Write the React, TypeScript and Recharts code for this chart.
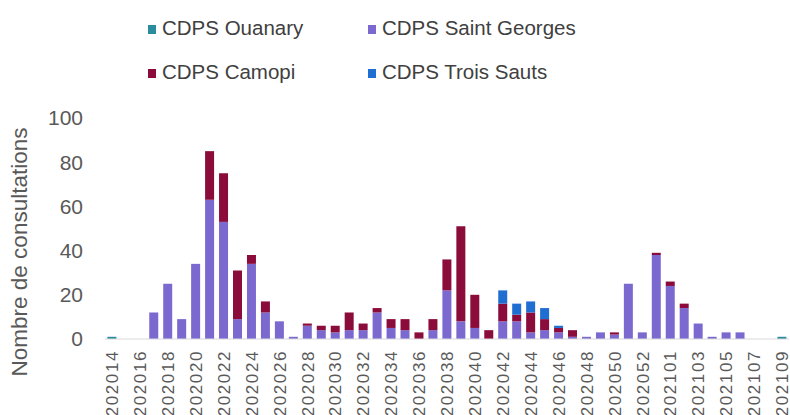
import { Bar, BarChart, XAxis, YAxis } from "recharts";

// semaines épidémiologiques (S14 2020 -> S09 2021)
const weeks = [
  "202014", "202015", "202016", "202017", "202018", "202019", "202020", "202021",
  "202022", "202023", "202024", "202025", "202026", "202027", "202028", "202029",
  "202030", "202031", "202032", "202033", "202034", "202035", "202036", "202037",
  "202038", "202039", "202040", "202041", "202042", "202043", "202044", "202045",
  "202046", "202047", "202048", "202049", "202050", "202051", "202052", "202053",
  "202101", "202102", "202103", "202104", "202105", "202106", "202107", "202108",
  "202109",
];

const ouanary = [
  1, 0, 0, 0, 0, 0, 0, 0, 0, 0, 0, 0, 0, 0, 0, 0,
  0, 0, 0, 0, 0, 0, 0, 0, 0, 0, 0, 0, 0, 0, 0, 0,
  0, 0, 0, 0, 0, 0, 0, 0, 0, 0, 0, 0, 0, 0, 0, 0,
  1,
];
const saintGeorges = [
  0, 0, 0, 12, 25, 9, 34, 63, 53, 9, 34, 12, 8, 1, 6, 4,
  3, 4, 4, 12, 5, 4, 0, 4, 22, 8, 5, 0, 8, 8, 3, 4,
  3, 1, 1, 3, 2, 25, 3, 38, 24, 14, 7, 1, 3, 3, 0, 0,
  0,
];
const camopi = [
  0, 0, 0, 0, 0, 0, 0, 22, 22, 22, 4, 5, 0, 0, 1, 2,
  3, 8, 3, 2, 4, 5, 3, 5, 14, 43, 15, 4, 8, 3, 9, 5,
  2, 3, 0, 0, 1, 0, 0, 1, 2, 2, 0, 0, 0, 0, 0, 0,
  0,
];
const troisSauts = [
  0, 0, 0, 0, 0, 0, 0, 0, 0, 0, 0, 0, 0, 0, 0, 0,
  0, 0, 0, 0, 0, 0, 0, 0, 0, 0, 0, 0, 6, 5, 5, 5,
  1, 0, 0, 0, 0, 0, 0, 0, 0, 0, 0, 0, 0, 0, 0, 0,
  0,
];

const yTicks = [0, 20, 40, 60, 80, 100];

const COLORS = {
  ouanary: "#2b8c9e",
  saintGeorges: "#7b69d0",
  camopi: "#8b0b3b",
  troisSauts: "#1f6fd3",
};

const FONT = "'Liberation Sans', Arial, sans-serif";
const TEXT = "#595959";

const data = weeks.map((week, i) => ({
  week,
  ouanary: ouanary[i],
  saintGeorges: saintGeorges[i],
  camopi: camopi[i],
  troisSauts: troisSauts[i],
}));

const legendItems = [
  { label: "CDPS Ouanary", color: COLORS.ouanary, left: 148, top: 16 },
  { label: "CDPS Saint Georges", color: COLORS.saintGeorges, left: 368, top: 16 },
  { label: "CDPS Camopi", color: COLORS.camopi, left: 148, top: 60 },
  { label: "CDPS Trois Sauts", color: COLORS.troisSauts, left: 368, top: 60 },
];

function WeekTick({ x, y, payload }: any) {
  return (
    <g transform={`translate(${x},${y})`}>
      <text
        transform="rotate(-90)"
        x={-3}
        y={0}
        dy="0.36em"
        textAnchor="end"
        fontSize={17}
        letterSpacing={1.6}
        fontFamily={FONT}
        fill={TEXT}
      >
        {payload.value}
      </text>
    </g>
  );
}

export default function App() {
  return (
    <div style={{ position: "absolute", left: 0, top: 0, width: 790, height: 415, background: "#fff" }}>
      <BarChart
        width={790}
        height={415}
        data={data}
        margin={{ top: 118, right: 1, bottom: 0, left: 0 }}
        barCategoryGap="17%"
      >
        <XAxis
          dataKey="week"
          interval={1}
          height={76}
          tickLine={false}
          axisLine={{ stroke: "#d9d9d9" }}
          tick={<WeekTick />}
        />
        <YAxis
          width={105}
          domain={[0, 100]}
          ticks={yTicks}
          axisLine={false}
          tickLine={false}
          tickMargin={16}
          tick={{ fontSize: 21, fill: TEXT, fontFamily: FONT }}
          label={{
            content: () => (
              <text
                transform="translate(27,252) rotate(-90)"
                textAnchor="middle"
                fontSize={22.5}
                fontFamily={FONT}
                fill={TEXT}
              >
                Nombre de consultations
              </text>
            ),
          }}
        />
        <Bar dataKey="ouanary" stackId="a" fill={COLORS.ouanary} isAnimationActive={false} />
        <Bar dataKey="saintGeorges" stackId="a" fill={COLORS.saintGeorges} isAnimationActive={false} />
        <Bar dataKey="camopi" stackId="a" fill={COLORS.camopi} isAnimationActive={false} />
        <Bar dataKey="troisSauts" stackId="a" fill={COLORS.troisSauts} isAnimationActive={false} />
      </BarChart>

      {legendItems.map((item) => (
        <div
          key={item.label}
          style={{
            position: "absolute",
            left: item.left,
            top: item.top,
            display: "flex",
            alignItems: "center",
            fontFamily: FONT,
            fontSize: 20.5,
            lineHeight: "23px",
            color: "#404040",
            whiteSpace: "nowrap",
          }}
        >
          <span style={{ width: 8, height: 9, background: item.color, marginRight: 6, marginTop: 4 }} />
          {item.label}
        </div>
      ))}
    </div>
  );
}
